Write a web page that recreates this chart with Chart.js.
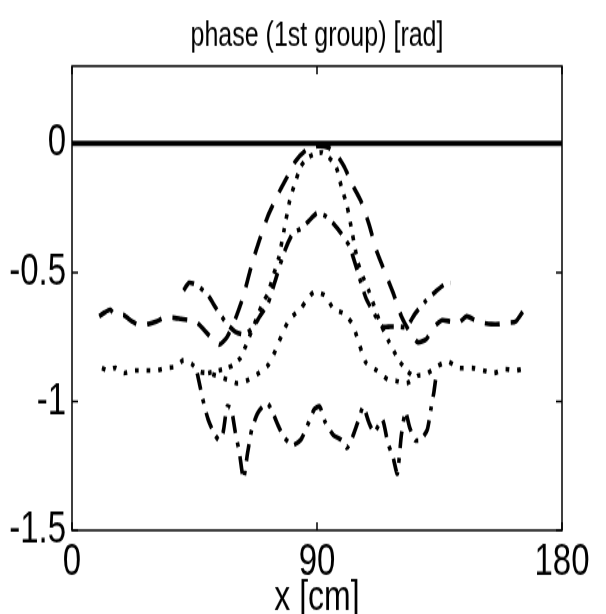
<!DOCTYPE html>
<html>
<head>
<meta charset="utf-8">
<script src="https://cdn.jsdelivr.net/npm/chart.js@4.4.1/dist/chart.umd.min.js"></script>
<style>
  html, body { margin: 0; padding: 0; background: #fff; overflow: hidden; }
  /* the original figure is stretched vertically: draw at 606x455, show at 606x614 */
  #chart { width: 606px; height: 614px; }
</style>
</head>
<body>
<canvas id="chart" width="606" height="455" style="width:606px;height:614px"></canvas>
<script>
const titleText = 'phase (1st group) [rad]';
const xTitle = 'x [cm]';
const xTickValues = [0, 90, 180];
const yTickValues = [-1.5, -1, -0.5, 0];
const yTickLabels = ['-1.5', '-1', '-0.5', '0'];

// solid reference line
const refX = [0, 180];
const refY = [0, 0];

// long dashes, peak near 0
const dashX = [10, 12, 14, 16, 19, 22, 25, 28, 31, 34, 37, 40, 43, 46, 50, 54, 57, 60, 63, 66, 69, 72, 76, 79, 82, 86, 90, 94, 97, 100, 103, 106, 109, 112, 115, 118, 121, 124, 127, 130, 133, 136, 139, 142, 145, 148, 151, 154, 157, 160, 163, 166];
const dashY = [-0.67, -0.655, -0.645, -0.665, -0.665, -0.69, -0.705, -0.70, -0.69, -0.675, -0.675, -0.68, -0.685, -0.695, -0.74, -0.78, -0.75, -0.68, -0.59, -0.47, -0.37, -0.28, -0.19, -0.13, -0.07, -0.025, -0.01, -0.015, -0.04, -0.09, -0.16, -0.22, -0.31, -0.42, -0.50, -0.58, -0.67, -0.73, -0.77, -0.76, -0.71, -0.685, -0.69, -0.695, -0.67, -0.685, -0.695, -0.70, -0.70, -0.695, -0.69, -0.645];

// dash-dot, peak near -0.28
const dashDotX = [41, 43, 46, 50, 53, 57, 60, 63, 66, 69, 72, 75, 78, 81, 84, 87, 90, 93, 96, 99, 102, 105, 108, 111, 114, 117, 120, 123, 126, 130, 134, 137, 139];
const dashDotY = [-0.57, -0.54, -0.55, -0.59, -0.64, -0.70, -0.73, -0.74, -0.72, -0.67, -0.62, -0.52, -0.42, -0.35, -0.33, -0.30, -0.27, -0.28, -0.31, -0.35, -0.40, -0.50, -0.60, -0.66, -0.71, -0.71, -0.71, -0.71, -0.66, -0.61, -0.57, -0.545, -0.54];

// dotted, narrow peak near 0
const dotNarrowX = [50, 54, 57, 59, 62, 64, 67, 70, 72, 74, 76, 78, 80, 82, 84, 86, 89, 92, 94, 97, 99, 101, 103, 105, 107, 109, 111, 113, 116, 118, 120, 123, 126];
const dotNarrowY = [-0.89, -0.88, -0.87, -0.86, -0.83, -0.78, -0.70, -0.62, -0.58, -0.51, -0.44, -0.33, -0.22, -0.15, -0.09, -0.06, -0.04, -0.035, -0.05, -0.09, -0.17, -0.24, -0.35, -0.46, -0.52, -0.57, -0.63, -0.69, -0.76, -0.80, -0.84, -0.88, -0.91];

// dotted, broad peak near -0.58
const dotBroadX = [11, 13, 16, 19, 23, 27, 31, 35, 38, 41, 44, 47, 50, 53, 57, 61, 65, 68, 72, 74, 76, 78, 80, 84, 86, 89, 93, 96, 100, 103, 105, 106.5, 108, 112, 116, 119, 123, 127, 130, 134, 138, 142, 147, 151, 155, 159, 163, 167];
const dotBroadY = [-0.87, -0.88, -0.87, -0.89, -0.88, -0.88, -0.88, -0.87, -0.865, -0.84, -0.855, -0.885, -0.89, -0.90, -0.915, -0.93, -0.915, -0.895, -0.86, -0.82, -0.77, -0.72, -0.68, -0.64, -0.61, -0.575, -0.59, -0.64, -0.66, -0.70, -0.76, -0.81, -0.85, -0.88, -0.915, -0.92, -0.93, -0.90, -0.895, -0.865, -0.845, -0.87, -0.87, -0.88, -0.89, -0.875, -0.88, -0.87];

// dash-dot, lower curve near -1.15
const lowX = [46, 47, 48, 50, 52, 54, 55.5, 57, 58.5, 60, 61.5, 63, 64.5, 66, 68, 70, 72, 74, 76, 78, 81, 84, 87, 89, 91, 93, 96, 99, 101, 103, 105, 107, 109, 111, 114, 116, 118, 119.5, 121, 122.5, 124, 126, 128, 130.5, 132, 133, 134];
const lowY = [-0.89, -0.94, -0.99, -1.07, -1.12, -1.15, -1.12, -1.02, -1.03, -1.12, -1.20, -1.30, -1.20, -1.11, -1.05, -1.02, -1.01, -1.05, -1.10, -1.14, -1.17, -1.15, -1.08, -1.03, -1.02, -1.08, -1.13, -1.15, -1.18, -1.14, -1.08, -1.02, -1.08, -1.12, -1.07, -1.16, -1.22, -1.28, -1.13, -1.04, -1.10, -1.15, -1.15, -1.11, -1.02, -0.96, -0.88];

const pts = (xs, ys) => xs.map((x, i) => ({ x: x, y: ys[i] }));

const line = (data, dash, width) => ({
  data: data,
  borderColor: '#000',
  borderWidth: width,
  borderDash: dash,
  pointRadius: 0,
  fill: false,
  tension: 0.2
});

// box round the plot and inward tick marks on all four sides
const frame = {
  id: 'frame',
  afterDatasetsDraw(chart) {
    const { ctx, chartArea: a, scales: { x, y } } = chart;
    ctx.save();
    ctx.strokeStyle = '#000';
    ctx.lineWidth = 1.5;
    ctx.setLineDash([]);
    ctx.strokeRect(a.left, a.top, a.right - a.left, a.bottom - a.top);
    ctx.beginPath();
    x.ticks.forEach(t => {
      const px = x.getPixelForValue(t.value);
      ctx.moveTo(px, a.bottom); ctx.lineTo(px, a.bottom - 6);
      ctx.moveTo(px, a.top); ctx.lineTo(px, a.top + 6);
    });
    y.ticks.forEach(t => {
      const py = y.getPixelForValue(t.value);
      ctx.moveTo(a.left, py); ctx.lineTo(a.left + 6, py);
      ctx.moveTo(a.right, py); ctx.lineTo(a.right - 6, py);
    });
    ctx.stroke();
    ctx.restore();
  }
};

new Chart(document.getElementById('chart'), {
  type: 'line',
  data: {
    datasets: [
      line(pts(refX, refY), [], 4),
      line(pts(dashX, dashY), [15, 11], 3.6),
      line(pts(dashDotX, dashDotY), [13, 7, 3.6, 7], 3.6),
      line(pts(dotNarrowX, dotNarrowY), [3.6, 7], 3.6),
      line(pts(dotBroadX, dotBroadY), [3.6, 8], 3.6),
      line(pts(lowX, lowY), [13, 7, 3.6, 7], 3.6)
    ]
  },
  options: {
    responsive: false,
    animation: false,
    layout: { padding: { left: 0, right: 44, top: 0, bottom: 0 } },
    plugins: {
      legend: { display: false },
      tooltip: { enabled: false },
      title: {
        display: true,
        fullSize: false,
        text: titleText,
        color: '#000',
        font: { family: 'Liberation Sans', size: 25, weight: 'normal', lineHeight: 1.2 },
        padding: { top: 12, bottom: 7 }
      }
    },
    scales: {
      x: {
        type: 'linear',
        min: 0,
        max: 180,
        afterBuildTicks: s => { s.ticks = xTickValues.map(v => ({ value: v })); },
        afterFit: s => { s.paddingLeft = 0; s.paddingRight = 0; s.height = 62; },
        grid: { display: false, drawTicks: false, tickLength: 0 },
        border: { display: false },
        ticks: {
          color: '#000',
          padding: 4,
          maxRotation: 0,
          autoSkip: false,
          font: { family: 'Liberation Sans', size: 33 }
        },
        title: {
          display: true,
          text: xTitle,
          color: '#000',
          padding: { top: 0, bottom: -4 },
          font: { family: 'Liberation Sans', size: 32, lineHeight: 1 }
        }
      },
      y: {
        type: 'linear',
        min: -1.5,
        max: 0.3,
        afterBuildTicks: s => { s.ticks = yTickValues.map(v => ({ value: v })); },
        afterFit: s => { s.paddingTop = 0; s.paddingBottom = 0; s.width = 72; },
        grid: { display: false, drawTicks: false, tickLength: 0 },
        border: { display: false },
        ticks: {
          color: '#000',
          padding: 6,
          callback: v => yTickLabels[yTickValues.indexOf(v)],
          font: { family: 'Liberation Sans', size: 33 }
        }
      }
    }
  },
  plugins: [frame]
});
</script>
</body>
</html>
